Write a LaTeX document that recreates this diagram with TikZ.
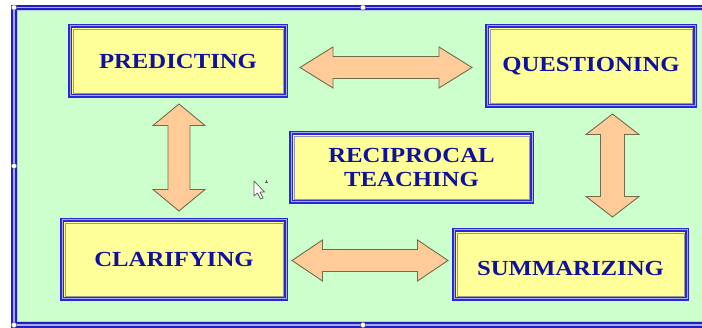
\documentclass[tikz,border=0pt]{standalone}
\usepackage{fontspec}
\setmainfont{Liberation Serif}[FakeStretch=1.15]
\definecolor{bggreen}{HTML}{CCFFCC}
\definecolor{boxyellow}{HTML}{FFFF99}
\definecolor{boxblue}{HTML}{2828D4}
\definecolor{boxlight}{HTML}{A8A8F5}
\definecolor{framedark}{HTML}{2020C0}
\definecolor{txtblue}{HTML}{10109E}
\definecolor{peach}{HTML}{FFCC99}
\definecolor{arrowedge}{HTML}{6E6E4A}
\tikzset{
  stepbox/.style={draw=boxblue, line width=1.9pt, double=boxlight, double distance=1pt,
    fill=boxyellow, inner sep=0pt, font=\bfseries\fontsize{21.5}{24}\selectfont,
    text=txtblue, align=center},
  innerline/.style={draw=gray!80, line width=0.6pt},
  blockarrow/.style={fill=peach, draw=arrowedge, line width=0.9pt, line join=miter},
  handle/.style={fill=white, draw=gray, line width=0.5pt},
}
\newcommand{\HDArrow}[6]{% x1 x2 yc bodyhalf headhalf headlen
  \draw[blockarrow] (#1,#3) -- (#1+#6,#3-#5) -- (#1+#6,#3-#4) -- (#2-#6,#3-#4) -- (#2-#6,#3-#5)
    -- (#2,#3) -- (#2-#6,#3+#5) -- (#2-#6,#3+#4) -- (#1+#6,#3+#4) -- (#1+#6,#3+#5) -- cycle;}
\newcommand{\VDArrow}[6]{% y1 y2 xc bodyhalf headhalf headlen
  \draw[blockarrow] (#3,#1) -- (#3+#5,#1+#6) -- (#3+#4,#1+#6) -- (#3+#4,#2-#6) -- (#3+#5,#2-#6)
    -- (#3,#2) -- (#3-#5,#2-#6) -- (#3-#4,#2-#6) -- (#3-#4,#1+#6) -- (#3-#5,#1+#6) -- cycle;}
\newcommand{\InnerLine}[1]{\draw[innerline] ([shift={(3.8,3.8)}]#1.north west) rectangle ([shift={(-3.8,-3.8)}]#1.south east);}
\begin{document}
\begin{tikzpicture}[x=1pt,y=-1pt]
\useasboundingbox (0,0) rectangle (702,328);
\clip (0,0) rectangle (702,328);
\fill[white] (0,0) rectangle (702,328);
% background and outer frame
\fill[bggreen] (14,7.5) rectangle (730,325);
\draw[framedark, line width=2pt, double=boxlight, double distance=1.2pt] (14,7.5) rectangle (730,325);
\draw[boxlight!60!bggreen, line width=1pt] (17.6,11) rectangle (730,321.6);
% boxes
\node[stepbox, minimum width=216pt, minimum height=70pt] (pred) at (178,61) {PREDICTING};
\node[stepbox, minimum width=208pt, minimum height=80pt] (ques) at (591,66) {QUESTIONING};
\node[stepbox, minimum width=241pt, minimum height=69pt] (reci) at (411.5,167.5) {RECIPROCAL\\TEACHING};
\node[stepbox, minimum width=224pt, minimum height=79pt] (clar) at (174,259.5) {CLARIFYING};
\node[stepbox, minimum width=233pt, minimum height=69pt] (summ) at (570.5,264.5) {\raisebox{-3.5pt}[\height][\depth]{SUMMARIZING}};
\InnerLine{pred}\InnerLine{ques}\InnerLine{reci}\InnerLine{clar}\InnerLine{summ}
% block arrows
\HDArrow{300}{472}{67.5}{11}{20.5}{33}
\HDArrow{292}{448}{260.5}{11}{20.5}{30.5}
\VDArrow{104}{211}{179}{11}{26}{21.5}
\VDArrow{114}{217}{612.5}{12}{26.5}{20.5}
% mouse cursor
\draw[fill=white, draw=gray!70!black, line width=0.7pt, line join=round]
  (254,181) -- (254,196) -- (257.5,193) -- (260.5,199) -- (263,198) -- (260,192) -- (264.5,192) -- cycle;
\draw[gray!70!black, line width=0.7pt] (264.5,182) -- (267.5,182) (266,180.5) -- (266,183.5);
% selection handles
\foreach \p in {(14,7.5),(363,7.5),(14,166),(14,325),(363,325)}
  \draw[handle] \p circle (2.6pt);
\end{tikzpicture}
\end{document}
